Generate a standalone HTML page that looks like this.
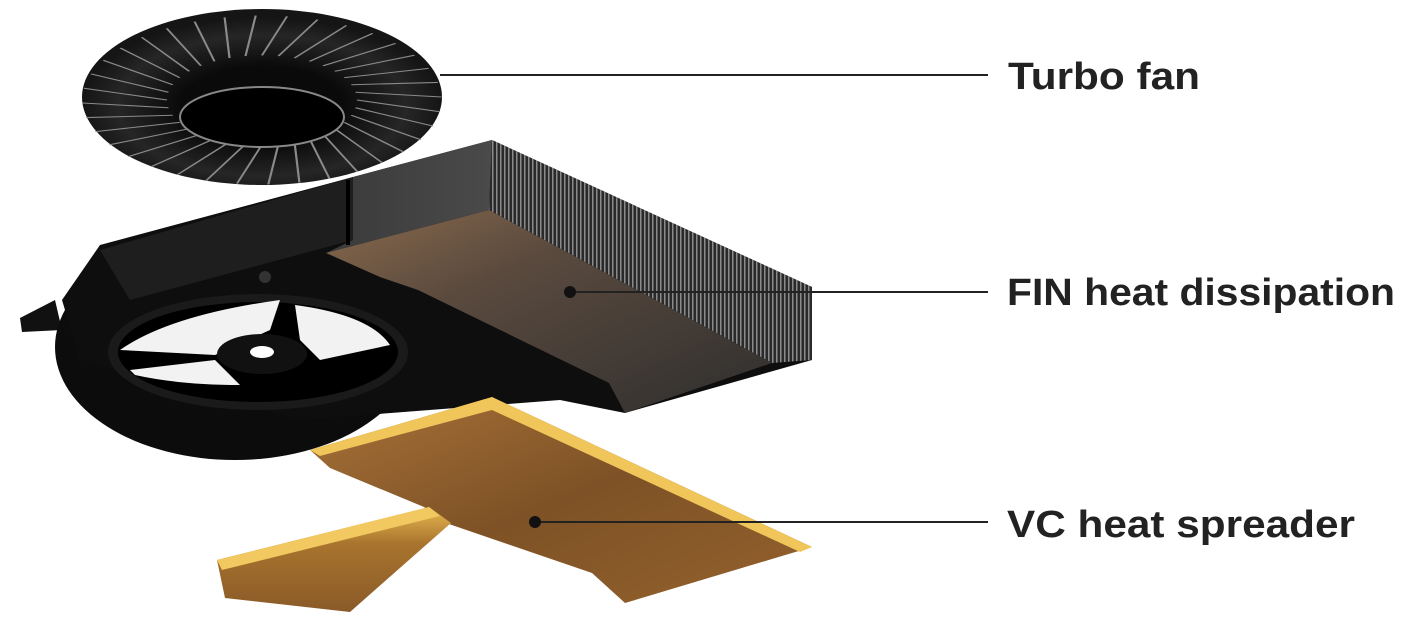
<!DOCTYPE html>
<html><head><meta charset="utf-8"><style>
html,body{margin:0;padding:0;background:#fff;width:1403px;height:624px;overflow:hidden}
text{font-family:"Liberation Sans",sans-serif;font-weight:bold;fill:#222;font-size:38px}
</style></head><body>
<svg width="1403" height="624" viewBox="0 0 1403 624">
<defs>
<radialGradient id="fanG" cx="0.5" cy="0.55" r="0.5">
<stop offset="0.45" stop-color="#0a0a0a"/><stop offset="0.8" stop-color="#262626"/><stop offset="1" stop-color="#151515"/>
</radialGradient>
<linearGradient id="cop" x1="0" y1="0" x2="1" y2="1">
<stop offset="0" stop-color="#a87238"/><stop offset="0.5" stop-color="#7e5226"/><stop offset="1" stop-color="#94612c"/>
</linearGradient>
<linearGradient id="copArm" x1="0" y1="0" x2="0" y2="1">
<stop offset="0" stop-color="#e8b850"/><stop offset="0.35" stop-color="#a8742e"/><stop offset="1" stop-color="#8a5a28"/>
</linearGradient>
<linearGradient id="botFace" x1="0" y1="0" x2="1" y2="1">
<stop offset="0" stop-color="#8a6a4c"/><stop offset="0.35" stop-color="#5a4a3e"/><stop offset="1" stop-color="#2e2e2e"/>
</linearGradient>
<linearGradient id="topFace" x1="0" y1="0" x2="1" y2="0">
<stop offset="0" stop-color="#3a3a3a"/><stop offset="1" stop-color="#4a4a4a"/>
</linearGradient>
<pattern id="fins" width="4" height="10" patternUnits="userSpaceOnUse">
<rect width="4" height="10" fill="#2a2a2a"/><rect width="1.5" height="10" fill="#8a8a8a"/>
</pattern>
</defs>
<!-- fan -->
<ellipse cx="262" cy="97" rx="180" ry="88" fill="url(#fanG)"/>
<g transform="translate(262,100) scale(1,0.47)" stroke="#8a8a8a" stroke-width="2.2">
<g id="f"><line x1="95" y1="0" x2="178" y2="25"/></g>
<use href="#f" transform="rotate(10)"/><use href="#f" transform="rotate(20)"/><use href="#f" transform="rotate(30)"/>
<use href="#f" transform="rotate(40)"/><use href="#f" transform="rotate(50)"/><use href="#f" transform="rotate(60)"/>
<use href="#f" transform="rotate(70)"/><use href="#f" transform="rotate(80)"/><use href="#f" transform="rotate(90)"/>
<use href="#f" transform="rotate(100)"/><use href="#f" transform="rotate(110)"/><use href="#f" transform="rotate(120)"/>
<use href="#f" transform="rotate(130)"/><use href="#f" transform="rotate(140)"/><use href="#f" transform="rotate(150)"/>
<use href="#f" transform="rotate(160)"/><use href="#f" transform="rotate(170)"/><use href="#f" transform="rotate(180)"/>
<use href="#f" transform="rotate(190)"/><use href="#f" transform="rotate(200)"/><use href="#f" transform="rotate(210)"/>
<use href="#f" transform="rotate(220)"/><use href="#f" transform="rotate(230)"/><use href="#f" transform="rotate(240)"/>
<use href="#f" transform="rotate(250)"/><use href="#f" transform="rotate(260)"/><use href="#f" transform="rotate(270)"/>
<use href="#f" transform="rotate(280)"/><use href="#f" transform="rotate(290)"/><use href="#f" transform="rotate(300)"/>
<use href="#f" transform="rotate(310)"/><use href="#f" transform="rotate(320)"/><use href="#f" transform="rotate(330)"/>
<use href="#f" transform="rotate(340)"/><use href="#f" transform="rotate(350)"/>
</g>
<ellipse cx="262" cy="117" rx="82" ry="30" fill="#000" stroke="#888" stroke-width="2"/>
<!-- housing -->
<path d="M20 318 L55 300 L62 330 L22 332 Z" fill="#111"/>
<ellipse cx="235" cy="347" rx="180" ry="113" fill="#0c0c0c"/>
<path d="M62 300 L100 245 L353 177 L492 140 L812 287 L812 360 L625 413 L560 400 L300 420 L80 360 Z" fill="#0e0e0e"/>
<path d="M100 250 L353 177 L353 240 L130 300 Z" fill="#1e1e1e"/>
<!-- upper gray face -->
<path d="M353 177 L492 140 L489 210 L326 253 L353 240 Z" fill="url(#topFace)"/>
<line x1="348" y1="180" x2="348" y2="245" stroke="#000" stroke-width="4"/>
<!-- fins band -->
<path d="M492 140 L812 287 L812 360 L772 363 L489 210 Z" fill="url(#fins)"/>
<!-- lower bronze face -->
<path d="M326 253 L489 210 L772 363 L625 413 L609 383 L418 290 L380 277 Z" fill="url(#botFace)"/>
<circle cx="265" cy="277" r="6" fill="#333"/>
<!-- fan hole -->
<ellipse cx="258" cy="352" rx="150" ry="58" fill="#1a1a1a"/>
<ellipse cx="258" cy="352" rx="140" ry="50" fill="#000" stroke="#fff" stroke-width="0"/>
<path d="M120 350 Q170 315 280 300 L270 330 L215 355 Z M295 305 Q370 315 390 345 L320 360 L300 340 Z M130 370 L215 360 L240 385 Q180 385 135 375 Z" fill="#fff" opacity="0.95"/>
<ellipse cx="262" cy="354" rx="45" ry="20" fill="#111"/>
<ellipse cx="262" cy="352" rx="12" ry="6" fill="#fff"/>
<!-- copper -->
<path d="M310 450 L492 397 L812 547 L625 603 L592 573 L446 523 L424 507 L330 468 Z" fill="url(#cop)"/>
<path d="M310 450 L492 397 L812 547 L800 552 L492 410 L320 456 Z" fill="#f0c55a"/>
<path d="M217 560 L429 507 L451 523 L350 612 L225 598 Z" fill="url(#copArm)"/>
<path d="M217 560 L429 507 L440 516 L222 570 Z" fill="#f2c860"/>
<!-- leader lines -->
<g stroke="#222" stroke-width="2">
<line x1="440" y1="75" x2="988" y2="75"/>
<line x1="570" y1="292" x2="988" y2="292"/>
<line x1="535" y1="522" x2="988" y2="522"/>
</g>
<circle cx="570" cy="292" r="6" fill="#111"/>
<circle cx="535" cy="522" r="6" fill="#111"/>
<text x="1008" y="89" textLength="192" lengthAdjust="spacingAndGlyphs">Turbo fan</text>
<text x="1007" y="305" textLength="388" lengthAdjust="spacingAndGlyphs">FIN heat dissipation</text>
<text x="1007" y="537" textLength="348" lengthAdjust="spacingAndGlyphs">VC heat spreader</text>
</svg>
</body></html>
